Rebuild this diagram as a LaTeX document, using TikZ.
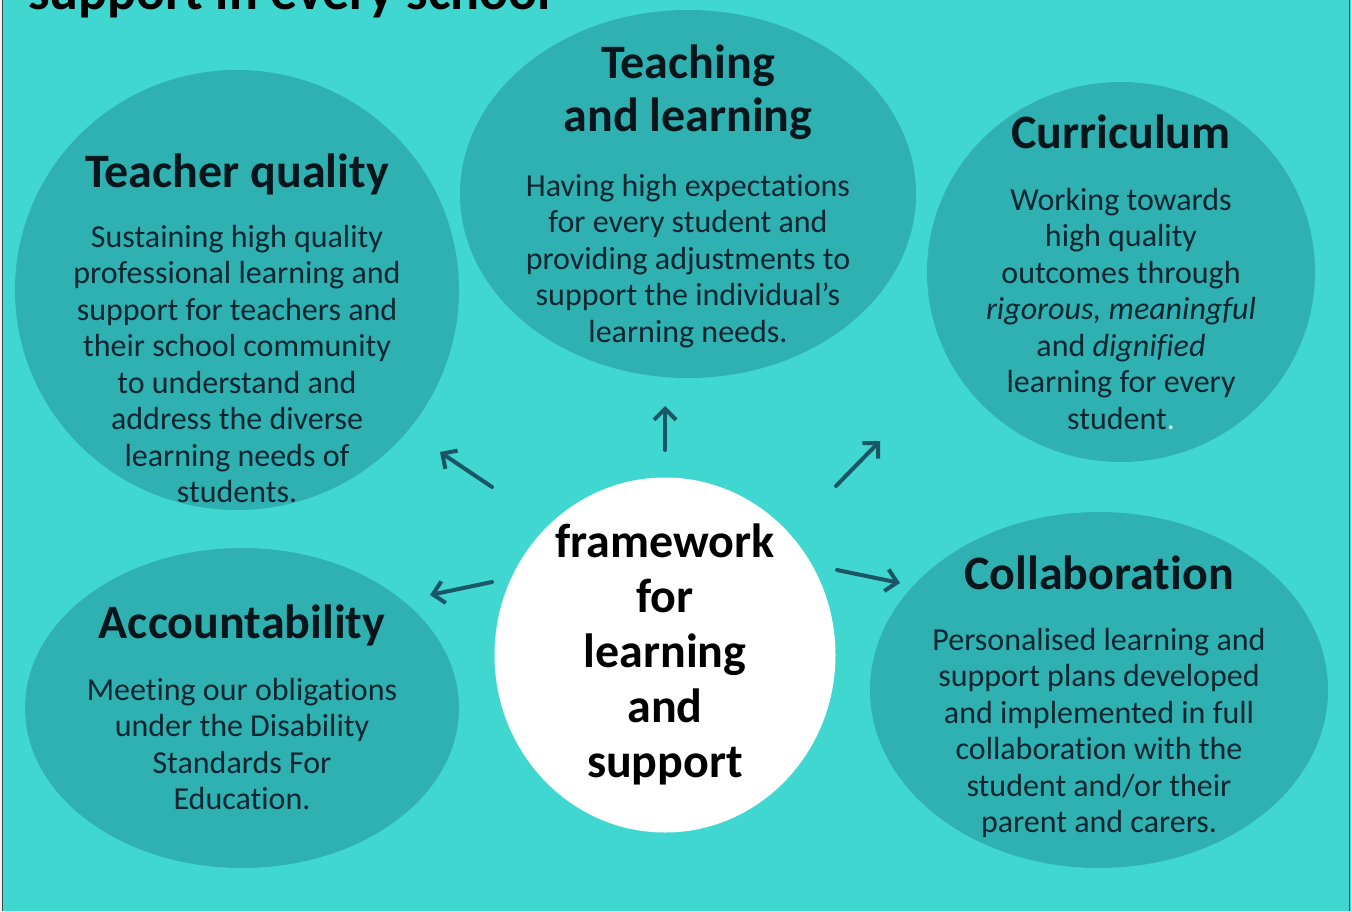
\documentclass[tikz,border=0pt]{standalone}
\usepackage{fontspec}
\setmainfont{Carlito}[Ligatures={CommonOff,ContextualOff,RareOff}, Contextuals=NoAlternate, RawFeature={-liga;-clig;-calt;-dlig}]
\usetikzlibrary{arrows.meta,shapes.geometric}

\definecolor{bgteal}{HTML}{40D7D1}
\definecolor{discteal}{HTML}{2FB0B1}
\definecolor{bodyink}{HTML}{0C2631}
\definecolor{headink}{HTML}{08161C}
\definecolor{arrowink}{HTML}{1A5666}
\definecolor{frameink}{HTML}{3A4A4C}

\tikzset{
  disc/.style={ellipse, fill=discteal, draw=none, inner sep=0pt},
  hub/.style={ellipse, fill=white, draw=none, inner sep=0pt},
  heading/.style={font=\bfseries\fontsize{48}{53}\selectfont, text=headink, align=center, inner sep=0pt},
  body/.style={font=\fontsize{32}{36.5}\selectfont, text=bodyink, align=center, inner sep=0pt},
  hubtext/.style={font=\bfseries\fontsize{48}{55}\selectfont, text=black, align=center, inner sep=0pt},
  spoke/.style={draw=arrowink, line width=4pt, line cap=round,
    -{Straight Barb[length=11pt, width=22pt, line width=4pt]}},
}

\begin{document}
\begin{tikzpicture}[x=1pt, y=-1pt]
  % canvas and frame
  \useasboundingbox (0,0) rectangle (1352,911);
  \fill[bgteal] (0,0) rectangle (1352,911);
  \fill[white!90!gray] (0,0) rectangle (1.5,911);
  \fill[white!90!gray] (1350.5,0) rectangle (1352,911);
  \draw[frameink, line width=1.6pt] (2.5,0) -- (2.5,911);
  \draw[frameink, line width=1.6pt] (1349.5,0) -- (1349.5,911);

  % title, running off the top edge
  \node[anchor=base west, font=\bfseries\fontsize{54}{60}\selectfont, text=black, inner sep=0pt]
    (title) at (28,9) {support in every school};

  % the five discs
  \node[disc, minimum width=444pt, minimum height=440pt] (tq) at (237,290) {};
  \node[disc, minimum width=456pt, minimum height=368pt] (tl) at (688,194) {};
  \node[disc, minimum width=388pt, minimum height=380pt] (cu) at (1121,272) {};
  \node[disc, minimum width=434pt, minimum height=320pt] (ac) at (242,708) {};
  \node[disc, minimum width=458pt, minimum height=356pt] (co) at (1099,690) {};

  % central hub (base anchors sit on the last line of each text block)
  \node[hub, minimum width=341pt, minimum height=355pt] (hub) at (665,655) {};
  \node[hubtext, anchor=base] (hubt) at (665,777) {framework\\for\\learning\\and\\support};

  % teacher quality
  \node[heading, anchor=base] (tqh) at (237,187) {Teacher quality};
  \node[body, anchor=base] (tqb) at (237,502.5)
    {Sustaining high quality\\professional learning and\\support for teachers and\\their school community\\to understand and\\address the diverse\\learning needs of\\students.};

  % teaching and learning
  \node[heading, anchor=base] (tlh) at (688,131) {Teaching\\and learning};
  \node[body, anchor=base] (tlb) at (688,342)
    {Having high expectations\\for every student and\\providing adjustments to\\support the individual’s\\learning needs.};

  % curriculum
  \node[heading, anchor=base] (cuh) at (1121,148) {Curriculum};
  \node[body, anchor=base] (cub) at (1121,429)
    {Working towards\\high quality\\outcomes through\\\textit{rigorous, meaningful}\\and \textit{dignified}\\learning for every\\student\textcolor{white!70!bgteal}{.}};

  % accountability
  \node[heading, anchor=base] (ach) at (242,638) {Accountability};
  \node[body, anchor=base] (acb) at (242,809.5)
    {Meeting our obligations\\under the Disability\\Standards For\\Education.};

  % collaboration
  \node[heading, anchor=base] (coh) at (1099,589) {Collaboration};
  \node[body, anchor=base] (cob) at (1099,832.5)
    {Personalised learning and\\support plans developed\\and implemented in full\\collaboration with the\\student and/or their\\parent and carers.};

  % spokes from the hub outwards
  \coordinate (s1a) at (492,487); \coordinate (s1b) at (440,452);
  \coordinate (s2a) at (665,450); \coordinate (s2b) at (665,406);
  \coordinate (s3a) at (836,486); \coordinate (s3b) at (880,441);
  \coordinate (s4a) at (492,582); \coordinate (s4b) at (430,595);
  \coordinate (s5a) at (837,570); \coordinate (s5b) at (900,583);
  \draw[spoke] (s1a) -- (s1b);
  \draw[spoke] (s2a) -- (s2b);
  \draw[spoke] (s3a) -- (s3b);
  \draw[spoke] (s4a) -- (s4b);
  \draw[spoke] (s5a) -- (s5b);
\end{tikzpicture}
\end{document}
